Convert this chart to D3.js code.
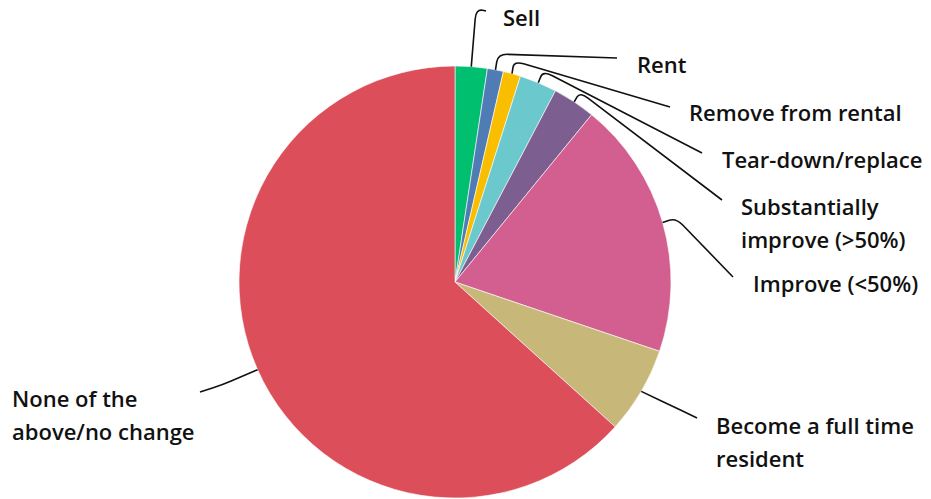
<!DOCTYPE html>
<html><head><meta charset="utf-8">
<script src="https://cdn.jsdelivr.net/npm/d3@7"></script>
<style>html,body{margin:0;padding:0;background:#fff;}svg{display:block;}</style>
</head><body>
<script>
const categories = ["Sell","Rent","Remove from rental","Tear-down/replace","Substantially improve (>50%)","Improve (<50%)","Become a full time resident","None of the above/no change"];
const values = [2.4,1.2,1.3,2.8,3.2,19.3,6.5,63.3];
const colors = ["#00bf6f","#507cb6","#f9be00","#6bc8cd","#7d5e90","#d25f90","#c7b879","#dc4e5a"];
const labelLines = [["Sell"],["Rent"],["Remove from rental"],["Tear-down/replace"],["Substantially","improve (>50%)"],["Improve (<50%)"],["Become a full time","resident"],["None of the","above/no change"]];

// layout (label anchors, connector bend and end points)
const layout = [
  {tx:503, ty:26,  bend:[476,9],  end:[486,11]},
  {tx:637, ty:73,  bend:[498,54],  end:[617,58]},
  {tx:689, ty:121, bend:[514,61],  end:[670,107]},
  {tx:722, ty:168, bend:[543,71],  end:[702,153]},
  {tx:741, ty:215, bend:[580,92],  end:[722,200]},
  {tx:753, ty:292, bend:[676,218], end:[733,277]},
  {tx:716, ty:434, bend:[672,406], end:[697,418]},
  {tx:12,  ty:407, bend:[222,385], end:[200,392]}
];
const W=931,H=499,cx=455,cy=282,R=216,lineH=33;

const svg=d3.select("body").append("svg").attr("width",W).attr("height",H);
const pie=d3.pie().sort(null).value(d=>d)(values);
const arc=d3.arc().innerRadius(0).outerRadius(R);
const g=svg.append("g").attr("transform",`translate(${cx},${cy})`);
g.selectAll("path").data(pie).join("path")
  .attr("d",arc).attr("fill",(d,i)=>colors[i])
  .attr("stroke","#fff").attr("stroke-width",0.6);

function connector(d,i){
  const a=(d.startAngle+d.endAngle)/2;
  const A=[cx+R*Math.sin(a),cy-R*Math.cos(a)];
  const B=layout[i].bend, C=layout[i].end;
  const rad=10;
  const u1=[B[0]-A[0],B[1]-A[1]], l1=Math.hypot(...u1);
  const u2=[C[0]-B[0],C[1]-B[1]], l2=Math.hypot(...u2);
  const r1=Math.min(rad,l1/2), r2=Math.min(rad,l2/1.5);
  const P1=[B[0]-u1[0]/l1*r1,B[1]-u1[1]/l1*r1];
  const P2=[B[0]+u2[0]/l2*r2,B[1]+u2[1]/l2*r2];
  const p=d3.path();
  p.moveTo(A[0],A[1]);p.lineTo(P1[0],P1[1]);
  p.quadraticCurveTo(B[0],B[1],P2[0],P2[1]);
  p.lineTo(C[0],C[1]);
  return p.toString();
}
svg.append("g").selectAll("path").data(pie).join("path")
  .attr("d",connector).attr("fill","none").attr("stroke","#111").attr("stroke-width",1.6);

const labels=svg.append("g").selectAll("text").data(categories).join("text")
  .attr("x",(d,i)=>layout[i].tx).attr("y",(d,i)=>layout[i].ty)
  .attr("font-family","'Open Sans', sans-serif").attr("font-weight",600)
  .attr("font-size",22).attr("fill","#111");
labels.each(function(d,i){
  d3.select(this).selectAll("tspan").data(labelLines[i]).join("tspan")
    .attr("x",layout[i].tx).attr("dy",(t,j)=>j?lineH:0).text(t=>t);
});
</script>
</body></html>
